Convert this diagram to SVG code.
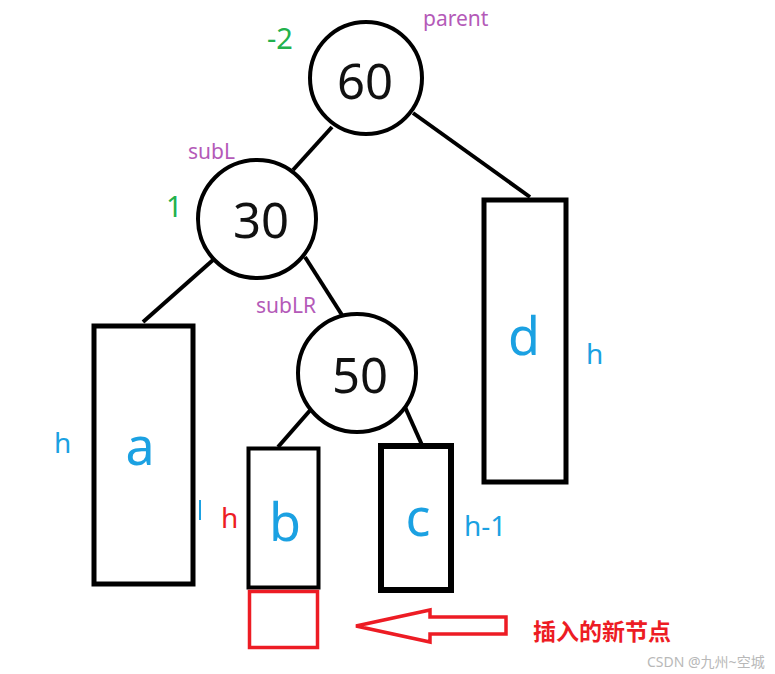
<svg xmlns="http://www.w3.org/2000/svg" width="775" height="674" viewBox="0 0 775 674">
<style>
.circ{fill:#fff;stroke:#000;stroke-width:4}
.box{fill:none;stroke:#000;stroke-width:5}
.edge{stroke:#000;stroke-width:4;fill:none}
.num{font-family:"Noto Sans","Open Sans",sans-serif;font-size:49px;fill:#111;text-anchor:middle}
.big{font-family:"Noto Sans","Open Sans",sans-serif;font-size:52px;fill:#1ba1e2;text-anchor:middle}
.lbl{font-family:"Noto Sans","Open Sans",sans-serif;font-size:21px;fill:#b45ab8}
.bal{font-family:"Noto Sans","Open Sans",sans-serif;font-size:29px;fill:#22b14c}
.ht{font-family:"Noto Sans","Open Sans",sans-serif;font-size:28px;fill:#1ba1e2}
</style>
<rect width="775" height="674" fill="#fff"/>
<g id="connectors">
<line class="edge" x1="332" y1="127" x2="293" y2="170"/>
<line class="edge" x1="413" y1="113" x2="530" y2="197"/>
<line class="edge" x1="143" y1="322" x2="213" y2="260"/>
<line class="edge" x1="305" y1="257" x2="342" y2="315"/>
<line class="edge" x1="313" y1="407" x2="278" y2="447"/>
<line class="edge" x1="405" y1="407" x2="422" y2="445"/>
</g>
<g id="node60">
<circle class="circ" cx="366" cy="78" r="56"/>
<text class="num" x="365" y="99">60</text>
<text class="bal" x="267" y="49">-2</text>
<text class="lbl" x="423" y="26">parent</text>
</g>
<g id="node30">
<circle class="circ" cx="257" cy="219" r="59"/>
<text class="num" x="261" y="238">30</text>
<text class="bal" x="166" y="217">1</text>
<text class="lbl" x="188" y="159">subL</text>
</g>
<g id="node50">
<circle class="circ" cx="357" cy="373" r="59"/>
<text class="num" x="360" y="393">50</text>
<text class="lbl" x="256" y="313">subLR</text>
</g>
<g id="subtree-a">
<rect class="box" x="94" y="326" width="99" height="258"/>
<text class="big" x="140" y="465">a</text>
<text class="ht" x="54" y="453">h</text>
<line x1="200" y1="500" x2="200" y2="520" stroke="#1ba1e2" stroke-width="2"/>
</g>
<g id="subtree-b">
<rect x="248.5" y="448.5" width="70" height="139" fill="none" stroke="#000" stroke-width="4"/>
<text class="big" x="285" y="541">b</text>
<text x="221" y="528" font-family="Noto Sans, Open Sans, sans-serif" font-size="28" fill="#ed1c24">h</text>
</g>
<g id="subtree-c">
<rect x="381" y="446" width="70" height="144" fill="none" stroke="#000" stroke-width="6"/>
<text class="big" x="418" y="536">c</text>
<text class="ht" x="464" y="536">h-1</text>
</g>
<g id="subtree-d">
<rect class="box" x="484" y="200" width="82" height="282"/>
<text class="big" x="524" y="355">d</text>
<text class="ht" x="586" y="364">h</text>
</g>
<g id="new-node">
<rect x="249.5" y="591.5" width="68" height="56" fill="none" stroke="#ed1c24" stroke-width="3.5"/>
</g>
<g id="arrow">
<polygon points="356,626 430,610 430,617 506,617 506,634 430,634 430,642" fill="#fff" stroke="#ed1c24" stroke-width="3.5" stroke-linejoin="miter"/>
<text x="533" y="640" font-family="Noto Sans CJK SC, sans-serif" font-size="23" font-weight="bold" fill="#ed1c24">插入的新节点</text>
</g>
<text x="647" y="667" font-family="Noto Sans, Noto Sans CJK SC, sans-serif" font-size="14" fill="#b8b8b8">CSDN @九州~空城</text>
</svg>
